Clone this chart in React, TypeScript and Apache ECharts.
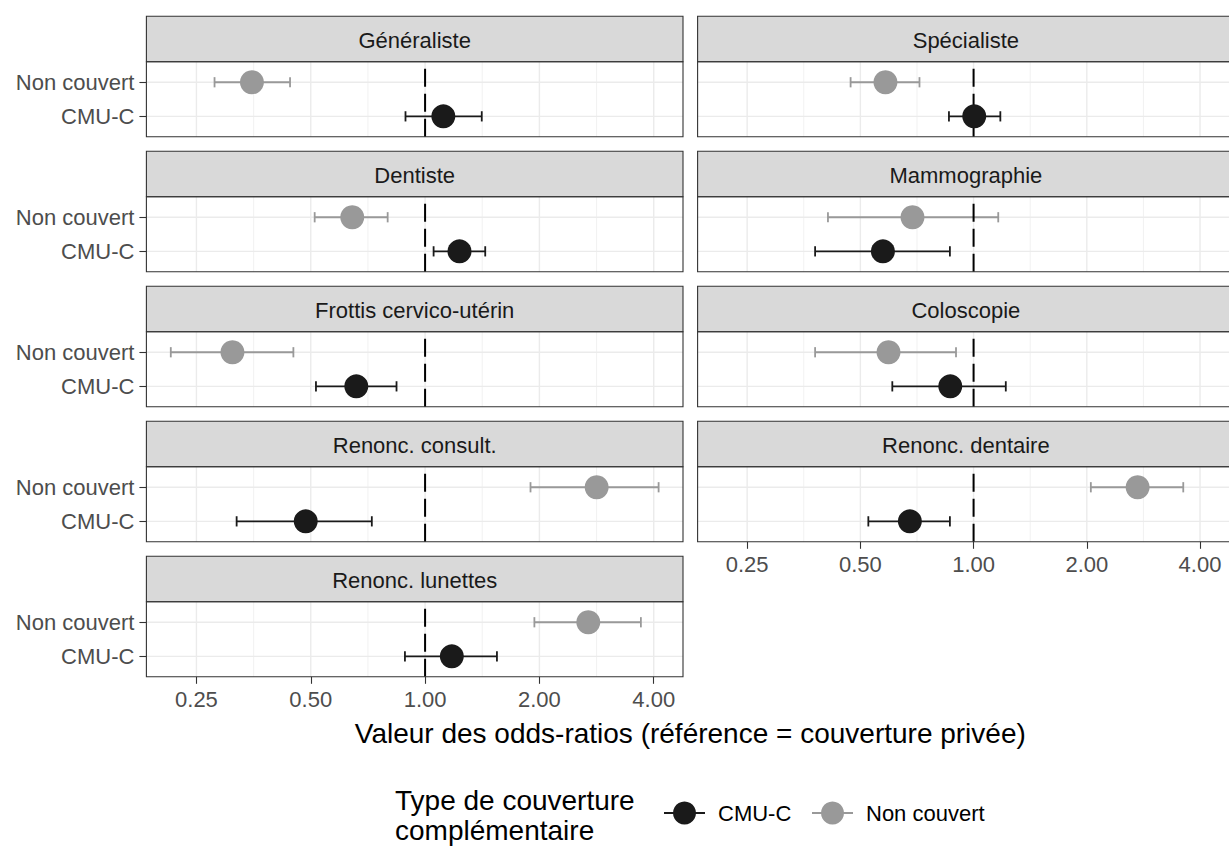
import React, { useEffect, useRef } from "react";
import * as echarts from "echarts";

// ---------- data ----------
const panelNames = [
  "Généraliste",
  "Spécialiste",
  "Dentiste",
  "Mammographie",
  "Frottis cervico-utérin",
  "Coloscopie",
  "Renonc. consult.",
  "Renonc. dentaire",
  "Renonc. lunettes",
];
const coverageTypes = ["CMU-C", "Non couvert"];

const cmuOR = [1.117, 1.004, 1.232, 0.574, 0.659, 0.867, 0.485, 0.677, 1.176];
const cmuLow = [0.888, 0.86, 1.053, 0.379, 0.516, 0.608, 0.319, 0.525, 0.885];
const cmuHigh = [1.41, 1.178, 1.44, 0.865, 0.841, 1.218, 0.724, 0.865, 1.546];

const ncOR = [0.35, 0.583, 0.643, 0.688, 0.311, 0.594, 2.83, 2.73, 2.69];
const ncLow = [0.279, 0.471, 0.512, 0.41, 0.214, 0.379, 1.895, 2.05, 1.94];
const ncHigh = [0.441, 0.718, 0.797, 1.163, 0.45, 0.898, 4.12, 3.61, 3.7];

const xTicks = [0.25, 0.5, 1, 2, 4];
const xMinorBreaks = [0.3536, 0.7071, 1.4142, 2.8284];
const referenceOR = 1;

const xTitle = "Valeur des odds-ratios (référence = couverture privée)";
const legendTitle = "Type de couverture\ncomplémentaire";

// ---------- style / layout ----------
const FONT = "'Liberation Sans', Arial, sans-serif";
const COLORS = ["#1A1A1A", "#999999"];
const COL_X = [146.4, 697.6];
const PANEL_W = 536.6;
const ROW_TOP0 = 16.3;
const ROW_PITCH = 135;
const STRIP_H = 45.5;
const PANEL_H = 75;

function buildOption() {
  const all = [...cmuLow, ...cmuHigh, ...ncLow, ...ncHigh];
  const lo = Math.log2(Math.min(...all));
  const hi = Math.log2(Math.max(...all));
  const pad = 0.05 * (hi - lo);
  const xMin = Math.pow(2, lo - pad);
  const xMax = Math.pow(2, hi + pad);

  const grids: any[] = [];
  const xAxes: any[] = [];
  const yAxes: any[] = [];
  const series: any[] = [];
  const graphics: any[] = [];

  panelNames.forEach((name, i) => {
    const col = i % 2;
    const row = Math.floor(i / 2);
    const left = COL_X[col];
    const stripTop = ROW_TOP0 + row * ROW_PITCH;
    const top = stripTop + STRIP_H;
    const isBottom = i === 7 || i === 8;

    grids.push({
      left,
      top,
      width: PANEL_W,
      height: PANEL_H,
      show: true,
      backgroundColor: "#FFFFFF",
      borderWidth: 0,
      containLabel: false,
    });

    xAxes.push({
      gridIndex: i,
      type: "log",
      logBase: 2,
      min: xMin,
      max: xMax,
      axisLine: { show: false },
      splitLine: { show: false },
      minorSplitLine: { show: false },
      axisTick: {
        show: isBottom,
        length: 7,
        customValues: xTicks,
        lineStyle: { color: "#333333", width: 1.1 },
      },
      axisLabel: {
        show: isBottom,
        customValues: xTicks,
        margin: 12,
        color: "#4D4D4D",
        fontSize: 22,
        fontFamily: FONT,
        formatter: (v: number) => Number(v).toFixed(2),
      },
    });

    yAxes.push({
      gridIndex: i,
      type: "value",
      min: 0.4,
      max: 2.6,
      axisLine: { show: false },
      splitLine: { show: false },
      axisTick: {
        show: col === 0,
        length: 7,
        customValues: [1, 2],
        lineStyle: { color: "#333333", width: 1.1 },
      },
      axisLabel: {
        show: col === 0,
        customValues: [1, 2],
        margin: 12,
        color: "#4D4D4D",
        fontSize: 22,
        fontFamily: FONT,
        formatter: (v: number) => coverageTypes[Math.round(v) - 1],
      },
    });

    // gridlines
    series.push({
      type: "custom",
      name: "grid-" + i,
      xAxisIndex: i,
      yAxisIndex: i,
      z: 1,
      silent: true,
      data: [[referenceOR, 1]],
      encode: { x: 0, y: 1 },
      renderItem: (params: any, api: any) => {
        const cs = params.coordSys;
        const children: any[] = [];
        xMinorBreaks.forEach((v) => {
          const x = api.coord([v, 1])[0];
          children.push({
            type: "line",
            shape: { x1: x, y1: cs.y, x2: x, y2: cs.y + cs.height },
            style: { stroke: "#EBEBEB", lineWidth: 0.7 },
          });
        });
        xTicks.forEach((v) => {
          const x = api.coord([v, 1])[0];
          children.push({
            type: "line",
            shape: { x1: x, y1: cs.y, x2: x, y2: cs.y + cs.height },
            style: { stroke: "#EBEBEB", lineWidth: 1.4 },
          });
        });
        [1, 2].forEach((yv) => {
          const y = api.coord([1, yv])[1];
          children.push({
            type: "line",
            shape: { x1: cs.x, y1: y, x2: cs.x + cs.width, y2: y },
            style: { stroke: "#EBEBEB", lineWidth: 1.4 },
          });
        });
        return { type: "group", children };
      },
    });

    // error bars
    const groups = [
      { name: coverageTypes[0], y: 1, or: cmuOR[i], low: cmuLow[i], high: cmuHigh[i], color: COLORS[0] },
      { name: coverageTypes[1], y: 2, or: ncOR[i], low: ncLow[i], high: ncHigh[i], color: COLORS[1] },
    ];
    groups.forEach((g) => {
      series.push({
        type: "custom",
        name: g.name + " IC",
        xAxisIndex: i,
        yAxisIndex: i,
        z: 2,
        silent: true,
        data: [[g.low, g.high, g.y]],
        encode: { x: [0, 1], y: 2 },
        renderItem: (params: any, api: any) => {
          const yv = api.value(2);
          const p1 = api.coord([api.value(0), yv]);
          const p2 = api.coord([api.value(1), yv]);
          const t = api.coord([api.value(0), yv + 0.15])[1];
          const b = api.coord([api.value(0), yv - 0.15])[1];
          const style = { stroke: g.color, lineWidth: 1.8 };
          return {
            type: "group",
            children: [
              { type: "line", shape: { x1: p1[0], y1: p1[1], x2: p2[0], y2: p2[1] }, style },
              { type: "line", shape: { x1: p1[0], y1: t, x2: p1[0], y2: b }, style },
              { type: "line", shape: { x1: p2[0], y1: t, x2: p2[0], y2: b }, style },
            ],
          };
        },
      });
    });

    // reference line
    series.push({
      type: "custom",
      name: "ref-" + i,
      xAxisIndex: i,
      yAxisIndex: i,
      z: 3,
      silent: true,
      data: [[referenceOR, 1]],
      encode: { x: 0, y: 1 },
      renderItem: (params: any, api: any) => {
        const cs = params.coordSys;
        const x = api.coord([api.value(0), 1])[0];
        return {
          type: "line",
          shape: { x1: x, y1: cs.y + cs.height, x2: x, y2: cs.y },
          style: { stroke: "#000000", lineWidth: 2, lineDash: [18, 7] },
        };
      },
    });

    // points
    groups.forEach((g) => {
      series.push({
        type: "scatter",
        name: g.name,
        xAxisIndex: i,
        yAxisIndex: i,
        z: 4,
        silent: true,
        symbol: "circle",
        symbolSize: 24,
        itemStyle: { color: g.color, opacity: 1 },
        data: [[g.or, g.y]],
      });
    });

    // strip
    graphics.push({
      type: "rect",
      z: 100,
      shape: { x: left, y: stripTop, width: PANEL_W, height: STRIP_H },
      style: { fill: "#D9D9D9", stroke: "#333333", lineWidth: 1.1 },
      silent: true,
    });
    graphics.push({
      type: "text",
      z: 101,
      x: left + PANEL_W / 2,
      y: stripTop + STRIP_H / 2 + 1,
      silent: true,
      style: {
        text: name,
        fontSize: 22,
        fontFamily: FONT,
        fill: "#1A1A1A",
        align: "center",
        verticalAlign: "middle",
        textAlign: "center",
        textVerticalAlign: "middle",
      },
    });
    // panel border
    graphics.push({
      type: "rect",
      z: 100,
      shape: { x: left, y: top, width: PANEL_W, height: PANEL_H },
      style: { fill: "none", stroke: "#333333", lineWidth: 1.1 },
      silent: true,
    });
  });

  // axis title
  graphics.push({
    type: "text",
    z: 101,
    x: COL_X[0] + (COL_X[1] + PANEL_W - COL_X[0]) / 2,
    y: 733,
    silent: true,
    style: {
      text: xTitle,
      fontSize: 28,
      fontFamily: FONT,
      fill: "#000000",
      align: "center",
      verticalAlign: "middle",
      textAlign: "center",
      textVerticalAlign: "middle",
    },
  });

  // legend
  graphics.push({
    type: "text",
    z: 101,
    x: 395,
    y: 786,
    silent: true,
    style: {
      text: legendTitle,
      fontSize: 28,
      lineHeight: 29.5,
      fontFamily: FONT,
      fill: "#000000",
      align: "left",
      verticalAlign: "top",
      textAlign: "left",
      textVerticalAlign: "top",
    },
  });
  const keyX = [664, 812];
  coverageTypes.forEach((label, k) => {
    const kx = keyX[k];
    const cy = 813;
    graphics.push({
      type: "line",
      z: 101,
      silent: true,
      shape: { x1: kx, y1: cy, x2: kx + 41, y2: cy },
      style: { stroke: COLORS[k], lineWidth: 1.8 },
    });
    graphics.push({
      type: "circle",
      z: 102,
      silent: true,
      shape: { cx: kx + 20.5, cy, r: 11.5 },
      style: { fill: COLORS[k] },
    });
    graphics.push({
      type: "text",
      z: 101,
      x: kx + 54,
      y: cy,
      silent: true,
      style: {
        text: label,
        fontSize: 22,
        fontFamily: FONT,
        fill: "#000000",
        align: "left",
        verticalAlign: "middle",
        textAlign: "left",
        textVerticalAlign: "middle",
      },
    });
  });

  return {
    animation: false,
    backgroundColor: "#FFFFFF",
    textStyle: { fontFamily: FONT },
    grid: grids,
    xAxis: xAxes,
    yAxis: yAxes,
    series,
    graphic: { elements: graphics },
  };
}

export default function App() {
  const ref = useRef<HTMLDivElement>(null);
  useEffect(() => {
    if (!ref.current) return;
    const chart = echarts.init(ref.current, null, { renderer: "svg" });
    chart.setOption(buildOption() as any);
    return () => {
      chart.dispose();
    };
  }, []);
  return (
    <div
      ref={ref}
      style={{
        position: "absolute",
        left: 0,
        top: 0,
        width: 1229,
        height: 847,
        background: "#FFFFFF",
      }}
    />
  );
}
